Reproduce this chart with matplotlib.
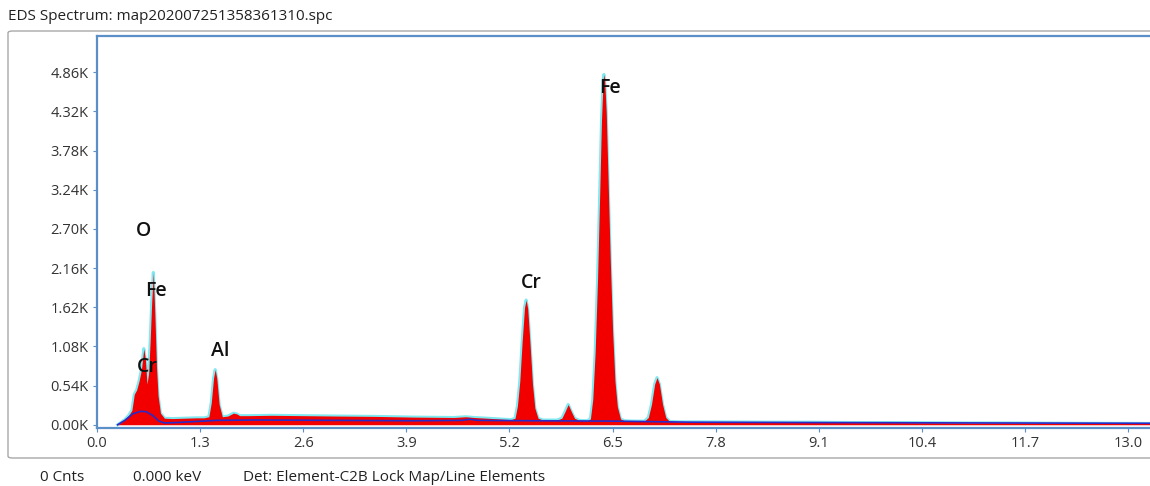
import matplotlib.pyplot as plt
from matplotlib.patches import FancyBboxPatch

# --- Data ---
# measured spectrum (keV, counts)
ENERGY = [0.26, 0.30, 0.35, 0.40, 0.44, 0.47, 0.50, 0.53, 0.56, 0.59, 0.61,
          0.63, 0.65, 0.67, 0.69, 0.71, 0.73, 0.75, 0.77, 0.80, 0.85, 0.95,
          1.10, 1.25, 1.35, 1.41, 1.44, 1.47, 1.49, 1.51, 1.54, 1.58, 1.65,
          1.72, 1.76, 1.80, 1.90, 2.20, 2.60, 3.00, 3.50, 4.00, 4.50, 4.65,
          4.75, 5.00, 5.22, 5.27, 5.30, 5.33, 5.36, 5.39, 5.41, 5.43, 5.46,
          5.49, 5.52, 5.56, 5.62, 5.80, 5.86, 5.90, 5.94, 5.98, 6.02, 6.08,
          6.18, 6.22, 6.25, 6.28, 6.31, 6.34, 6.36, 6.38, 6.39, 6.40, 6.42,
          6.44, 6.47, 6.50, 6.53, 6.56, 6.60, 6.65, 6.75, 6.90, 6.95, 6.99,
          7.03, 7.06, 7.09, 7.13, 7.17, 7.22, 7.35, 7.50, 8.00, 8.50, 9.00,
          9.50, 10.00, 10.50, 11.00, 11.50, 12.00, 12.50, 13.30]
COUNTS = [0, 30, 70, 130, 200, 420, 480, 600, 760, 1050, 900,
          560, 700, 1150, 1700, 2100, 1500, 800, 400, 160, 90, 85,
          90, 95, 95, 110, 300, 650, 760, 640, 280, 110, 120,
          160, 150, 125, 125, 130, 125, 120, 115, 105, 100, 110,
          100, 85, 70, 90, 260, 600, 1150, 1620, 1720, 1600, 1100,
          560, 230, 90, 65, 65, 90, 180, 280, 180, 90, 60,
          55, 80, 350, 1000, 2000, 3300, 4200, 4750, 4830, 4750, 4300,
          3500, 2300, 1300, 600, 250, 80, 55, 50, 50, 100, 280,
          560, 650, 560, 280, 100, 45, 40, 40, 38, 35, 35,
          30, 30, 28, 25, 25, 22, 20, 18]

# background fit (keV, counts)
BG_ENERGY = [0.26, 0.35, 0.45, 0.55, 0.62, 0.70, 0.78, 0.85, 1.00, 1.50,
             2.00, 3.00, 4.00, 4.60, 4.70, 4.80, 5.50, 6.50, 7.50, 9.00,
             11.00, 13.30]
BG_COUNTS = [0, 60, 150, 185, 180, 130, 50, 25, 30, 60,
             65, 60, 55, 60, 75, 60, 55, 50, 35, 30,
             25, 20]

# peak labels (text, keV, counts)
PEAK_LABELS = ["O", "Fe", "Cr", "Al", "Cr", "Fe"]
PEAK_X = [0.58, 0.74, 0.63, 1.55, 5.47, 6.47]
PEAK_Y = [2670, 1840, 800, 1010, 1960, 4640]

X_TICKS = [0.0, 1.3, 2.6, 3.9, 5.2, 6.5, 7.8, 9.1, 10.4, 11.7, 13.0]
Y_TICKS = [0, 540, 1080, 1620, 2160, 2700, 3240, 3780, 4320, 4860]

TITLE = "EDS Spectrum: map202007251358361310.spc"
STATUS = ["0 Cnts", "0.000 keV", "Det: Element-C2B Lock Map/Line Elements"]

plt.rcParams['font.family'] = ['Open Sans', 'DejaVu Sans']

AXIS_BLUE = '#5b8fc7'
TEXT_GRAY = '#333333'

fig = plt.figure(figsize=(11.5, 4.86), dpi=100)

# outer gray frame
frame = FancyBboxPatch((8 / 1150, 28 / 486), 1.05, 427 / 486,
                       boxstyle="round,pad=0,rounding_size=0.004",
                       transform=fig.transFigure, facecolor='white',
                       edgecolor='#a8a8a8', linewidth=1.0, zorder=0)
fig.patches.append(frame)

ax = fig.add_axes([97 / 1150, 58 / 486, 1055 / 1150, 392 / 486])
ax.set_zorder(2)
ax.patch.set_alpha(0)

ax.plot(ENERGY, COUNTS, color='#80e8f0', linewidth=2.2, zorder=2)
ax.fill_between(ENERGY, 0, COUNTS, color='#f20000', linewidth=0, zorder=3)
ax.plot(BG_ENERGY, BG_COUNTS, color='#2a2ac8', linewidth=1.2, zorder=4)

for lab, x, y in zip(PEAK_LABELS, PEAK_X, PEAK_Y):
    ax.text(x, y, lab, fontsize=14, fontweight='semibold', color='#111111',
            ha='center', va='center', zorder=5)

ax.set_xlim(0, 13.30)
ax.set_ylim(-45, 5360)
ax.set_xticks(X_TICKS)
ax.set_xticklabels([f"{t:.1f}" for t in X_TICKS])
ax.set_yticks(Y_TICKS)
ax.set_yticklabels([f"{t / 1000:.2f}K" for t in Y_TICKS])
ax.tick_params(axis='both', labelsize=10.5, labelcolor=TEXT_GRAY,
               color=AXIS_BLUE, length=3, width=0.8, pad=3)

for side in ['left', 'top', 'bottom']:
    ax.spines[side].set_color(AXIS_BLUE)
    ax.spines[side].set_linewidth(1.6)
ax.spines['right'].set_visible(False)

fig.text(8 / 1150, 1 - 17 / 486, TITLE, fontsize=11, color='#222222',
         ha='left', va='center')
status_x = [40, 133, 243]
for s, px in zip(STATUS, status_x):
    fig.text(px / 1150, 1 - 477 / 486, s, fontsize=11, color='#222222',
             ha='left', va='center')

fig.savefig("out.png", dpi=100)
